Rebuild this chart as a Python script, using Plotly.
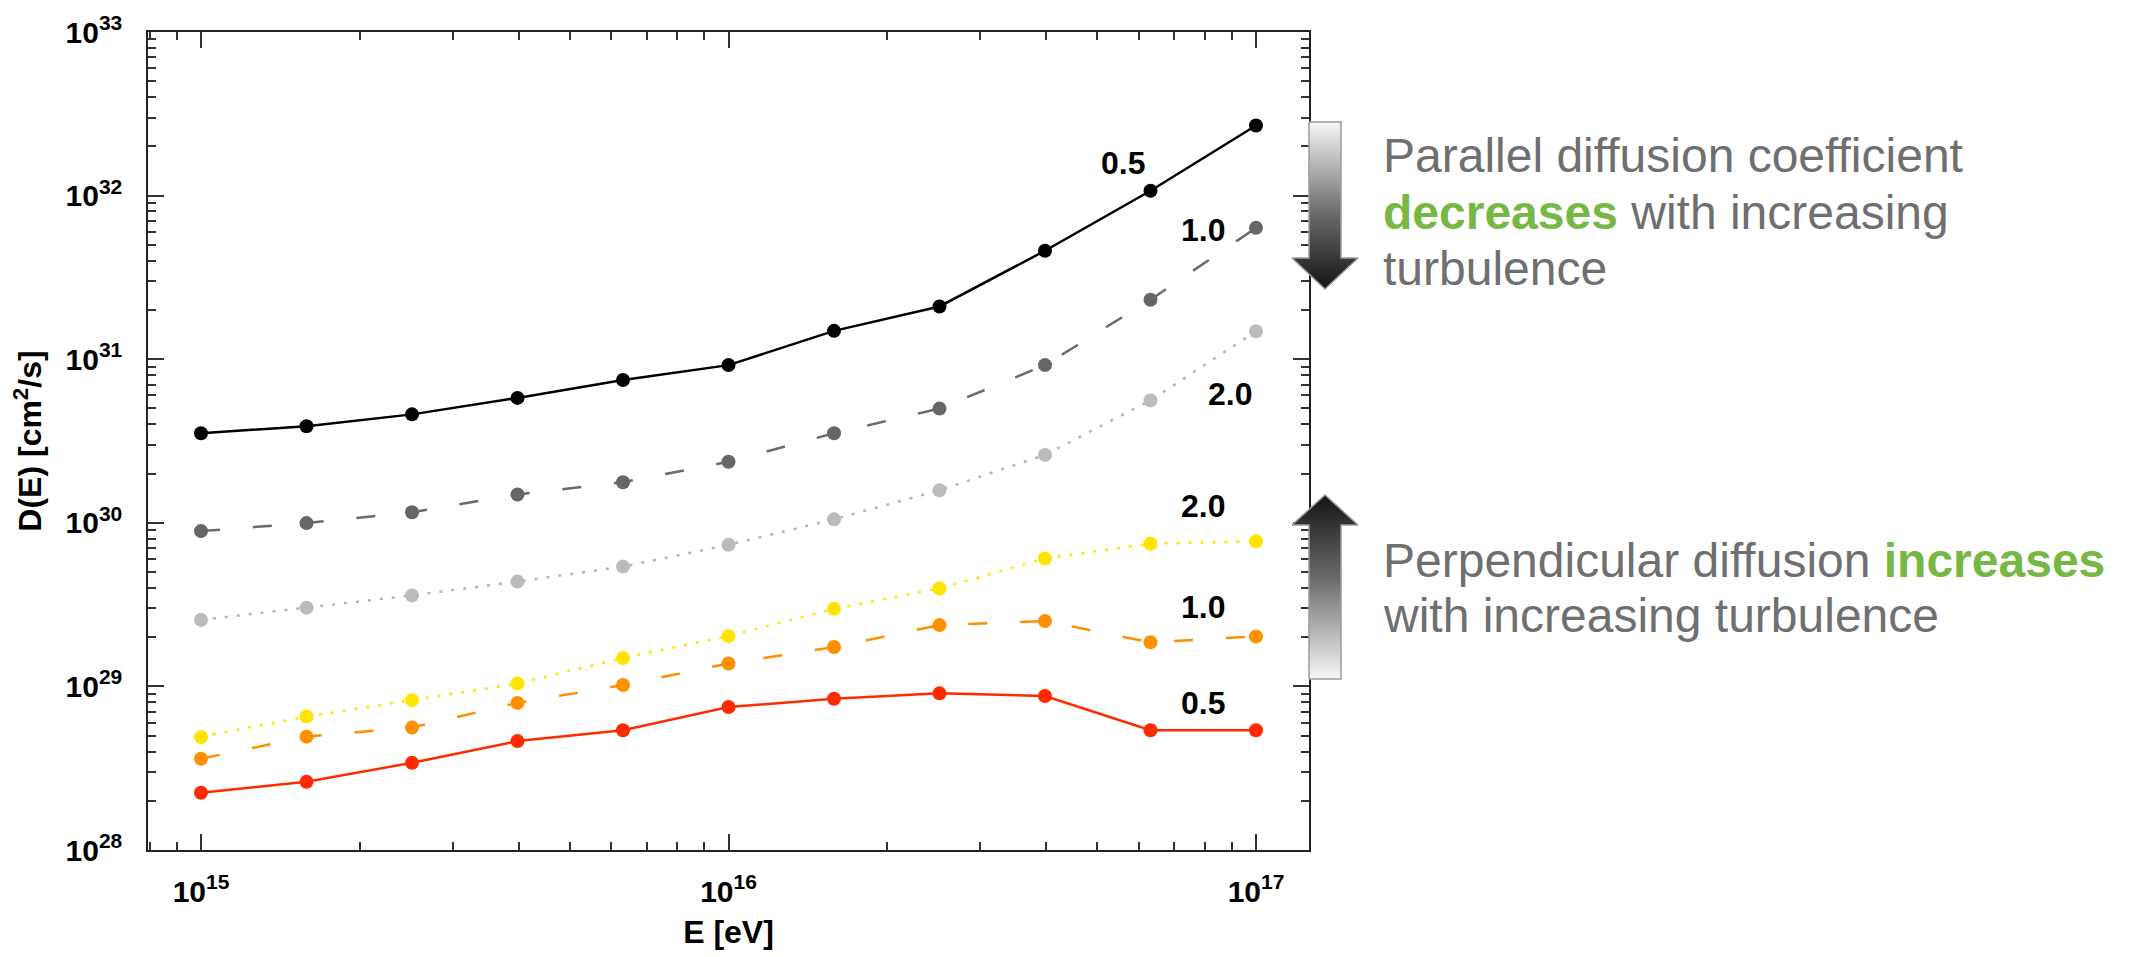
import numpy as np
import plotly.graph_objects as go

W, H = 2135, 957

# ---------------- data ----------------
energy_eV = [1e15, 1.585e15, 2.512e15, 3.981e15, 6.310e15, 1e16,
             1.585e16, 2.512e16, 3.981e16, 6.310e16, 1e17]

par_05 = [3.53e30, 3.89e30, 4.60e30, 5.80e30, 7.46e30, 9.20e30,
          1.49e31, 2.10e31, 4.60e31, 1.07e32, 2.68e32]
par_10 = [8.90e29, 9.96e29, 1.16e30, 1.49e30, 1.77e30, 2.36e30,
          3.53e30, 4.99e30, 9.20e30, 2.31e31, 6.35e31]
par_20 = [2.55e29, 3.03e29, 3.60e29, 4.37e29, 5.40e29, 7.33e29,
          1.05e30, 1.58e30, 2.60e30, 5.60e30, 1.48e31]
perp_20 = [4.91e28, 6.55e28, 8.24e28, 1.04e29, 1.49e29, 2.03e29,
           2.98e29, 3.97e29, 6.05e29, 7.45e29, 7.70e29]
perp_10 = [3.61e28, 4.93e28, 5.61e28, 7.93e28, 1.02e29, 1.38e29,
           1.74e29, 2.37e29, 2.51e29, 1.86e29, 2.02e29]
perp_05 = [2.24e28, 2.61e28, 3.41e28, 4.63e28, 5.40e28, 7.48e28,
           8.40e28, 9.07e28, 8.73e28, 5.40e28, 5.40e28]

series = [
    # (values, line color, dash, width, marker color, label, label x (log E), label y (log D))
    (par_05, "#000000", "solid", 2.5, "#000000", "0.5", 16.748, 32.20),
    (par_10, "#6a6a6a", "19px,33px", 2.5, "#666666", "1.0", 16.90, 31.79),
    (par_20, "#b4b4b4", "3px,9px", 2.5, "#bbbbbb", "2.0", 16.951, 30.79),
    (perp_20, "#ffe500", "3px,9px", 2.5, "#ffe400", "2.0", 16.90, 30.10),
    (perp_10, "#ff8f00", "19px,33px", 2.5, "#ff9100", "1.0", 16.90, 29.485),
    (perp_05, "#ff2a00", "solid", 2.5, "#ff2a00", "0.5", 16.90, 28.90),
]

y_tick_exp = [28, 29, 30, 31, 32, 33]
x_tick_exp = [15, 16, 17]

# ---------------- layout geometry (pixels) ----------------
PL, PR, PT, PB = 148, 1309, 32, 850

fig = go.Figure()

for vals, col, dash, lw, mcol, lab, lx, ly in series:
    fig.add_trace(go.Scatter(
        x=energy_eV, y=vals, mode="lines+markers",
        line=dict(color=col, dash=dash, width=lw),
        marker=dict(color=mcol, size=14, symbol="circle"),
        showlegend=False, xaxis="x", yaxis="y",
    ))

BOLD_FAMILY = "Liberation Sans, Arial, Helvetica, sans-serif"
label_font = dict(family=BOLD_FAMILY, size=32, color="#000000", weight=700)
for vals, col, dash, lw, mcol, lab, lx, ly in series:
    fig.add_annotation(x=lx, y=ly, xref="x", yref="y", text=lab, showarrow=False,
                       font=label_font, xanchor="center", yanchor="middle")

# ---------------- gradient arrows on a full-figure pixel overlay ----------------
def arrow(points, colorscale):
    xs = [p[0] for p in points] + [points[0][0]]
    ys = [H - p[1] for p in points] + [H - points[0][1]]
    fig.add_trace(go.Scatter(
        x=xs, y=ys, mode="lines", fill="toself",
        fillgradient=dict(type="vertical", colorscale=colorscale),
        line=dict(color="#9a9a9a", width=1.5),
        hoverinfo="skip", showlegend=False, xaxis="x2", yaxis="y2",
    ))

cx = 1325
down_pts = [(1309, 122), (1341, 122), (1341, 258), (1358, 258), (cx, 289),
            (1292, 258), (1309, 258)]
up_pts = [(1309, 679), (1341, 679), (1341, 525), (1358, 525), (cx, 495),
          (1292, 525), (1309, 525)]
arrow(down_pts, [[0, "#141414"], [0.45, "#6a6a6a"], [1, "#f7f7f7"]])
arrow(up_pts, [[0, "#f7f7f7"], [0.55, "#6a6a6a"], [1, "#141414"]])

# ---------------- right-hand text ----------------
GREY = "#6f6f6f"
GREEN = "#76b843"
txt_font = dict(family="Liberation Sans, Arial, Helvetica", size=48, color=GREY)
lines = [
    ("Parallel diffusion coefficient", 155),
    (f"<b><span style='color:{GREEN}'>decreases</span></b> with increasing", 213),
    ("turbulence", 269),
    (f"Perpendicular diffusion <b><span style='color:{GREEN}'>increases</span></b>", 560),
    ("with increasing turbulence", 615),
]
for t, ypx in lines:
    fig.add_annotation(x=1381 / W, y=1 - ypx / H, xref="paper", yref="paper",
                       text=t, showarrow=False, xanchor="left", yanchor="middle",
                       font=txt_font, align="left")

tick_font = dict(family=BOLD_FAMILY, size=30, color="#000000", weight=700)
title_font = dict(family=BOLD_FAMILY, size=32, color="#000000", weight=700)

def minor_vals(e0, e1):
    return [k * 10.0 ** e for e in range(e0, e1) for k in range(2, 10)]

axis_common = dict(
    type="log", showgrid=False, zeroline=False,
    showline=True, linecolor="#222222", linewidth=1.5, mirror="allticks",
    ticks="inside", ticklen=16, tickwidth=1.5, tickcolor="#333333",
    tickfont=tick_font, automargin=False, fixedrange=True,
)

fig.update_layout(
    width=W, height=H,
    margin=dict(l=0, r=0, t=0, b=0, pad=0),
    paper_bgcolor="white", plot_bgcolor="rgba(0,0,0,0)",
    template="none", showlegend=False,
    xaxis=dict(
        **axis_common,
        domain=[PL / W, PR / W],
        range=[14.8995, 17.1005],
        tickmode="array",
        tickvals=[10.0 ** e for e in x_tick_exp],
        ticktext=[f"10<sup>{e}</sup>" for e in x_tick_exp],
        minor=dict(ticks="inside", ticklen=8, tickwidth=1.5, tickcolor="#333333",
                   tickvals=minor_vals(14, 17), showgrid=False),
        ticklabelstandoff=14,
        title=dict(text="E [eV]", font=title_font, standoff=14),
        anchor="y",
    ),
    yaxis=dict(
        **axis_common,
        domain=[1 - PB / H, 1 - PT / H],
        range=[28, 33],
        tickmode="array",
        tickvals=[10.0 ** e for e in y_tick_exp],
        ticktext=[f"10<sup>{e}</sup>" for e in y_tick_exp],
        minor=dict(ticks="inside", ticklen=8, tickwidth=1.5, tickcolor="#333333",
                   tickvals=minor_vals(28, 33), showgrid=False),
        ticklabelstandoff=18,
        title=dict(text="D(E) [cm<sup>2</sup>/s]", font=title_font, standoff=14),
        anchor="x",
    ),
    xaxis2=dict(domain=[0, 1], range=[0, W], visible=False, anchor="y2", fixedrange=True),
    yaxis2=dict(domain=[0, 1], range=[0, H], visible=False, anchor="x2", fixedrange=True),
)

fig.write_html("out.html",
               config={"displayModeBar": False},
               post_script="document.body.style.margin='0';document.body.style.overflow='hidden';")
